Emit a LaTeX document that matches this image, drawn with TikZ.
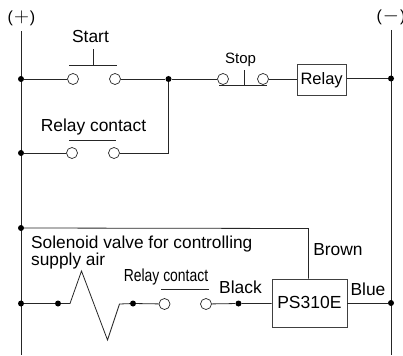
\documentclass[tikz,border=0pt]{standalone}
\usepackage{fontspec}
\setmainfont{Liberation Sans}
\newcommand{\railsign}[1]{{\fontsize{16}{16}\selectfont(}\kern1pt{\fontsize{20}{20}\selectfont $#1$}\kern1pt{\fontsize{16}{16}\selectfont)}}
\begin{document}
\begin{tikzpicture}[x=1pt,y=-1pt,
  wire/.style={line width=0.8pt,draw=black!85},
  junction/.style={circle,fill=black,inner sep=0pt,minimum size=6pt},
  contact/.style={circle,draw=black!85,fill=white,line width=0.7pt,inner sep=0pt,minimum size=11pt},
  devbox/.style={rectangle,draw=black!75,line width=0.8pt,inner sep=0pt,anchor=north west},
  lbl/.style={inner sep=0pt,font=\fontsize{17.4}{17.4}\selectfont}]
\useasboundingbox (0,0) rectangle (403,355);
% rails
\coordinate (pt) at (21,31); \coordinate (pb) at (21,355);
\coordinate (mt) at (391,30); \coordinate (mb) at (391,355);
\draw[wire] (pt) -- (pb);
\draw[wire] (mt) -- (mb);
% junctions
\node[junction] (j1) at (21,79) {};
\node[junction] (j2) at (21,153) {};
\node[junction] (j3) at (21,228) {};
\node[junction] (j4) at (21,303.5) {};
\node[junction] (j5) at (168.5,79) {};
\node[junction] (j6) at (391,78.5) {};
\node[junction] (j7) at (391,303) {};
\node[junction] (j8) at (58,303.5) {};
\node[junction] (j9) at (133,303.5) {};
\node[junction] (j10) at (238.5,303.5) {};
% contacts
\node[contact] (s1) at (73,79) {};
\node[contact] (s2) at (115,79) {};
\node[contact] (t1) at (223,79) {};
\node[contact] (t2) at (263,79) {};
\node[contact] (r1) at (72,153) {};
\node[contact] (r2) at (114,153) {};
\node[contact] (c1) at (164.5,304) {};
\node[contact] (c2) at (206,304) {};
% boxes
\node[devbox,minimum width=49.5pt,minimum height=30.5pt,font=\fontsize{16.5}{16.5}\selectfont] (relay) at (296.5,64.5) {Relay};
\node[devbox,minimum width=75pt,minimum height=48pt,font=\fontsize{17.5}{17.5}\selectfont] (ps) at (271.5,278.5) {PS310E};
% wires top
\draw[wire] (j1) -- (s1);
\draw[wire] (s2) -- (j5);
\draw[wire] (j5) -- (t1);
\draw[wire] (t2) -- (relay.west |- t2);
\draw[wire] (relay.east |- j6) -- (j6);
\draw[wire] (j2) -- (r1);
\draw[wire] (r2) -| (j5);
% start button
\coordinate (sa) at (69,65); \coordinate (sb) at (117,65);
\coordinate (sc) at (93.5,65); \coordinate (sd) at (93.5,49);
\draw[wire] (sa) -- (sb); \draw[wire] (sc) -- (sd);
% stop button
\coordinate (ta) at (219,85); \coordinate (tb) at (267,85);
\coordinate (tc) at (244,85); \coordinate (td) at (244,70);
\draw[wire] (ta) -- (tb); \draw[wire] (tc) -- (td);
% relay contact bars
\coordinate (ra) at (69,140.5); \coordinate (rb) at (116,140.5);
\draw[wire] (ra) -- (rb);
\coordinate (ca) at (161,289); \coordinate (cb) at (209,289);
\draw[wire] (ca) -- (cb);
% lower wires
\coordinate (br) at (308.5,228.5);
\draw[wire] (j3) -- (br) -- (br |- ps.north);
\coordinate (z1) at (70,303.5); \coordinate (z2) at (81.5,271);
\coordinate (z3) at (107.5,340); \coordinate (z4) at (119.5,304);
\draw[wire,line join=miter] (j4) -- (j8) -- (z1) -- (z2) -- (z3) -- (z4) -- (j9) -- (c1);
\draw[wire] (c2) -- (j10) -- (ps.west |- j10);
\draw[wire] (ps.east |- j7) -- (j7);
% labels
\node[lbl] (plus) at (21.5,18.5) {\railsign{+}};
\node[lbl] (minus) at (391,17.5) {\railsign{-}};
\node[lbl] (lstart) at (90.5,36.5) {Start};
\node[lbl,font=\fontsize{15}{15}\selectfont] (lstop) at (240.5,59.5) {Stop};
\node[lbl] (lrc) at (93.5,127.5) {Relay contact};
\node[lbl,anchor=west,align=left,font=\fontsize{17.3}{17}\selectfont] (lsol) at (31,253) {Solenoid valve for controlling\\supply air};
\node[lbl] (lrc2) at (166,276.5) {\scalebox{0.8}[1]{Relay contact}};
\node[lbl] (lblack) at (240.5,287) {Black};
\node[lbl] (lbrown) at (338,250) {Brown};
\node[lbl] (lblue) at (368,289) {Blue};
\end{tikzpicture}
\end{document}
